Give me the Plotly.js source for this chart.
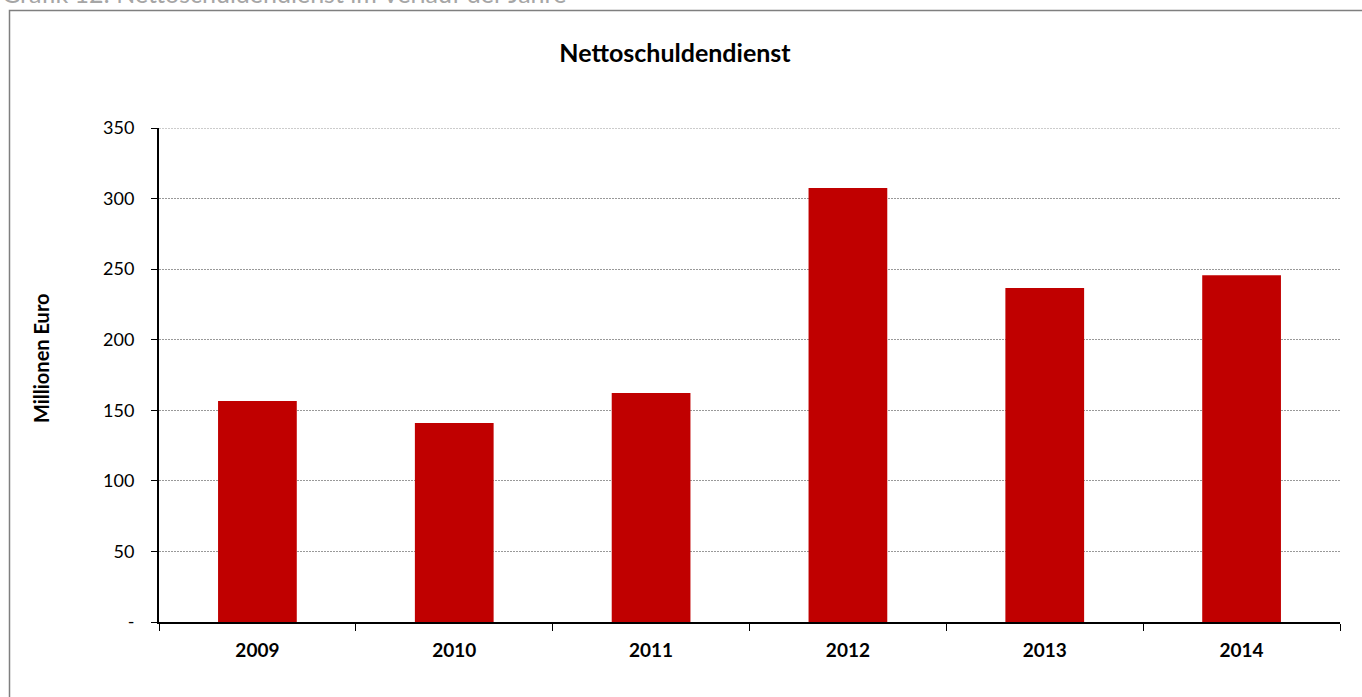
<!DOCTYPE html>
<html>
<head>
<meta charset="utf-8">
<script src="https://cdn.plot.ly/plotly-3.0.1.min.js"></script>
<style>
  html, body { margin: 0; padding: 0; background: #fff; }
  #chart { width: 1362px; height: 697px; }
</style>
</head>
<body>
<div id="chart"></div>
<script>
const years = ["2009", "2010", "2011", "2012", "2013", "2014"];
const values = [156.6, 141.0, 162.3, 307.5, 236.6, 245.6];
const yTickVals = [0, 50, 100, 150, 200, 250, 300, 350];
const yTickText = ["-", "50", "100", "150", "200", "250", "300", "350"];
const chartTitle = "Nettoschuldendienst";
const yTitle = "Millionen Euro";
const caption = "Grafik 12: Nettoschuldendienst im Verlauf der Jahre";

const FONT = "Lato, 'Open Sans', sans-serif";
const W = 1362, H = 697;
const L = 159, R = 22, T = 128, B = 75;
const pw = W - L - R, ph = H - T - B;
const px = x => (x - L) / pw;
const py = y => (H - B - y) / ph;
const GRID = "#999999";
const GRIDDASH = "2px,1px";

const trace = {
  type: "bar",
  x: years,
  y: values,
  marker: { color: "#C00000", line: { width: 0 } },
  hoverinfo: "x+y"
};

const yMax = yTickVals[yTickVals.length - 1];

const layout = {
  width: W, height: H,
  margin: { l: L, r: R, t: T, b: B, pad: 0 },
  paper_bgcolor: "#ffffff",
  plot_bgcolor: "#ffffff",
  showlegend: false,
  bargap: 0.6,
  font: { family: FONT, color: "#000", size: 18 },
  title: {
    text: "<b>" + chartTitle + "</b>",
    font: { family: FONT, size: 25, color: "#000" },
    x: 675 / W, xanchor: "center",
    y: 1 - 53 / H, yanchor: "middle", yref: "container"
  },
  xaxis: {
    type: "category",
    showline: true, linecolor: "#000", linewidth: 2,
    ticks: "outside", ticklen: 7, tickwidth: 1, tickcolor: "#000",
    tickson: "boundaries",
    showgrid: false, zeroline: false,
    ticklabelstandoff: 10,
    tickfont: { family: FONT, size: 19, color: "#000", weight: "bold" },
    fixedrange: true
  },
  yaxis: {
    range: [0, yMax],
    tickvals: yTickVals, ticktext: yTickText,
    showline: true, linecolor: "#000", linewidth: 2,
    ticks: "outside", ticklen: 6, tickwidth: 1, tickcolor: "#000",
    ticklabelstandoff: 13,
    showgrid: true, gridcolor: GRID, gridwidth: 1, griddash: GRIDDASH,
    zeroline: false,
    tickfont: { family: FONT, size: 18, color: "#000" },
    fixedrange: true
  },
  shapes: [
    {
      type: "line", xref: "paper", yref: "y",
      x0: 0, x1: 1, y0: yMax, y1: yMax,
      line: { color: GRID, width: 1, dash: GRIDDASH }
    },
    {
      type: "path", xref: "paper", yref: "paper",
      path: "M " + px(9.5) + " " + py(720) + " L " + px(9.5) + " " + py(10.5) + " L " + px(1380) + " " + py(10.5),
      line: { color: "#7f7f7f", width: 1.5 }
    }
  ],
  annotations: [
    {
      text: caption, xref: "paper", yref: "paper",
      x: px(0), y: py(-7), xanchor: "left", yanchor: "middle",
      showarrow: false,
      font: { family: FONT, size: 25, color: "#a6a6a6" }
    },
    {
      text: "<b>" + yTitle + "</b>", xref: "paper", yref: "paper",
      x: px(41), y: py(358), xanchor: "center", yanchor: "middle",
      textangle: -90, showarrow: false,
      font: { family: FONT, size: 20, color: "#000" }
    }
  ]
};

Plotly.newPlot("chart", [trace], layout, { displayModeBar: false });
</script>
</body>
</html>
